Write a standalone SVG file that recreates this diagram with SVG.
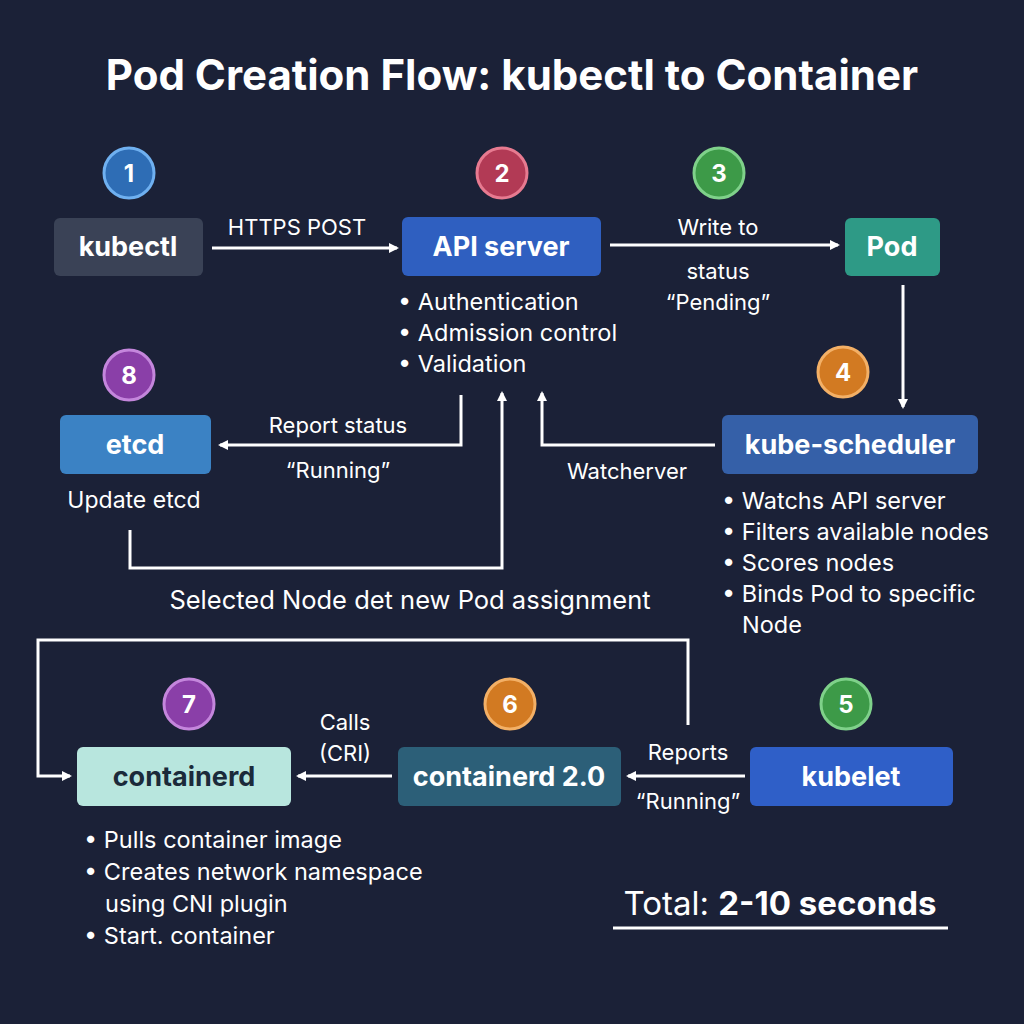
<svg xmlns="http://www.w3.org/2000/svg" width="1024" height="1024" viewBox="0 0 1024 1024">
<style>
text{font-family:"Inter","Liberation Sans",sans-serif;fill:#fff}
.t{font-size:22px;text-anchor:middle}
.b{font-size:23.5px}
.n{font-size:27px;font-weight:bold;text-anchor:middle}
.c{font-size:24px;font-weight:bold;text-anchor:middle}
.l{stroke:#fff;stroke-width:3;fill:none}
.a{marker-end:url(#ah)}
</style>
<defs><marker id="ah" markerWidth="10" markerHeight="10" refX="8" refY="5" orient="auto" markerUnits="userSpaceOnUse" viewBox="0 0 10 10"><path d="M0,0L10,5L0,10z" fill="#fff"/></marker></defs>
<rect width="1024" height="1024" fill="#1b2137"/>
<text x="512" y="90" text-anchor="middle" font-size="42" font-weight="bold">Pod Creation Flow: kubectl to Container</text>
<g id="badges">
<circle cx="129" cy="173" r="25" fill="#2e6db5" stroke="#6fb0f0" stroke-width="3"/><text x="129" y="182" class="c">1</text>
<circle cx="502" cy="173" r="25" fill="#b23a55" stroke="#e77a90" stroke-width="3"/><text x="502" y="182" class="c">2</text>
<circle cx="719" cy="173" r="25" fill="#3d9a48" stroke="#7fd18a" stroke-width="3"/><text x="719" y="182" class="c">3</text>
<circle cx="843" cy="372" r="25" fill="#d27a22" stroke="#f3b066" stroke-width="3"/><text x="843" y="381" class="c">4</text>
<circle cx="846" cy="704" r="25" fill="#3d9a48" stroke="#7fd18a" stroke-width="3"/><text x="846" y="713" class="c">5</text>
<circle cx="510" cy="704" r="25" fill="#d27a22" stroke="#f3b066" stroke-width="3"/><text x="510" y="713" class="c">6</text>
<circle cx="189" cy="704" r="25" fill="#8a3fa8" stroke="#c486dc" stroke-width="3"/><text x="189" y="713" class="c">7</text>
<circle cx="129" cy="375" r="25" fill="#8a3fa8" stroke="#c486dc" stroke-width="3"/><text x="129" y="384" class="c">8</text>
</g>
<g id="kubectl"><rect x="54" y="218" width="149" height="58" rx="6" fill="#3a4256"/><text x="128" y="256" class="n">kubectl</text></g>
<g id="api"><rect x="402" y="217" width="199" height="59" rx="6" fill="#2f5fc0"/><text x="501" y="256" class="n">API server</text>
<text x="398" y="310" class="b">• Authentication</text><text x="398" y="341" class="b">• Admission control</text><text x="398" y="372" class="b">• Validation</text></g>
<g id="pod"><rect x="845" y="218" width="95" height="58" rx="6" fill="#2e9a86"/><text x="892" y="256" class="n">Pod</text></g>
<g id="scheduler"><rect x="722" y="415" width="256" height="59" rx="6" fill="#3560a8"/><text x="850" y="454" class="n">kube-scheduler</text>
<text x="722" y="509" class="b">• Watchs API server</text><text x="722" y="540" class="b">• Filters available nodes</text><text x="722" y="571" class="b">• Scores nodes</text><text x="722" y="602" class="b">• Binds Pod to specific</text><text x="742" y="633" class="b">Node</text></g>
<g id="etcd"><rect x="60" y="415" width="151" height="59" rx="6" fill="#3b82c4"/><text x="135" y="454" class="n">etcd</text><text x="134" y="508" class="t" style="font-size:23px">Update etcd</text></g>
<g id="containerd"><rect x="77" y="747" width="214" height="59" rx="6" fill="#b8e6de"/><text x="184" y="786" class="n" style="fill:#1b2a3a">containerd</text>
<text x="84" y="848" class="b">• Pulls container image</text><text x="84" y="880" class="b">• Creates network namespace</text><text x="105" y="912" class="b">using CNI plugin</text><text x="84" y="944" class="b">• Start. container</text></g>
<g id="containerd2"><rect x="398" y="747" width="223" height="59" rx="6" fill="#2c5f78"/><text x="509" y="786" class="n">containerd 2.0</text></g>
<g id="kubelet"><rect x="750" y="747" width="203" height="59" rx="6" fill="#2f5fc8"/><text x="851" y="786" class="n">kubelet</text></g>
<g id="connectors">
<path class="l a" d="M212,248H397"/><text x="297" y="235" class="t">HTTPS POST</text>
<path class="l a" d="M610,245H838"/><text x="718" y="235" class="t">Write to</text><text x="718" y="279" class="t">status</text><text x="718" y="310" class="t">“Pending”</text>
<path class="l a" d="M903,285V407"/>
<path class="l a" d="M715,445H542V393"/><text x="627" y="479" class="t">Watcherver</text>
<path class="l a" d="M461,395V445H220"/><text x="338" y="433" class="t">Report status</text><text x="338" y="478" class="t">“Running”</text>
<path class="l a" d="M130,530V568H502V393"/>
<text x="410" y="609" class="t" style="font-size:25.5px">Selected Node det new Pod assignment</text>
<path class="l a" d="M688,725V640H38V776H70"/>
<path class="l a" d="M745,776H628"/><text x="688" y="760" class="t">Reports</text><text x="688" y="809" class="t">“Running”</text>
<path class="l a" d="M392,776H298"/><text x="345" y="730" class="t">Calls</text><text x="345" y="761" class="t">(CRI)</text>
</g>
<text x="780" y="915" text-anchor="middle" font-size="33">Total: <tspan font-weight="bold">2-10 seconds</tspan></text>
<path d="M613,928H948" stroke="#fff" stroke-width="3"/>
</svg>
